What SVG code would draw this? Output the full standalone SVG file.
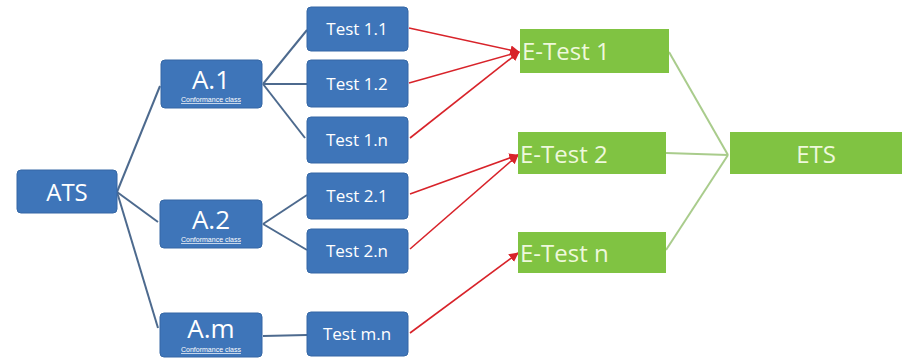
<svg xmlns="http://www.w3.org/2000/svg" width="904" height="360" viewBox="0 0 904 360">
<defs>
<style>
.b{fill:#3e75b9;stroke:#3567a5;stroke-width:1}
.g{fill:#80c342}
.tb{font-family:"Open Sans","Liberation Sans",sans-serif;fill:#ffffff;text-anchor:middle;dominant-baseline:central}
.tg{font-family:"Open Sans","Liberation Sans",sans-serif;fill:#eef8dc;dominant-baseline:central}
.cc{font-family:"Liberation Sans",sans-serif;fill:#ffffff;text-anchor:middle;font-size:7px;text-decoration:underline}
.bl{stroke:#4d6a8e;stroke-width:2;fill:none}
.gl{stroke:#a9cc8c;stroke-width:2;fill:none}
.rl{stroke:#d8232a;stroke-width:1.6;fill:none;marker-end:url(#ah)}
</style>
<marker id="ah" viewBox="0 0 10 10" refX="9" refY="5" markerWidth="6" markerHeight="6" orient="auto" markerUnits="strokeWidth">
<path d="M0,0 L10,5 L0,10 z" fill="#d8232a"/>
</marker>
</defs>
<rect width="904" height="360" fill="#ffffff"/>
<g id="connectors">
<path class="bl" d="M117,192 L160,86"/>
<path class="bl" d="M117,192 L158,222"/>
<path class="bl" d="M117,192 L158,328"/>
<path class="bl" d="M263,84 L307,30"/>
<path class="bl" d="M263,84 L307,84"/>
<path class="bl" d="M263,84 L305,138"/>
<path class="bl" d="M263,224 L307,195"/>
<path class="bl" d="M263,224 L307,250"/>
<path class="bl" d="M263,336 L307,335"/>
<path class="rl" d="M409,28 L519,52"/>
<path class="rl" d="M409,83 L519,52"/>
<path class="rl" d="M410,138 L519,52"/>
<path class="rl" d="M410,194 L518,155"/>
<path class="rl" d="M410,249 L518,155"/>
<path class="rl" d="M410,333 L518,253"/>
<path class="gl" d="M669,52 L728,155"/>
<path class="gl" d="M666,153 L728,155"/>
<path class="gl" d="M666,250 L728,155"/>
</g>
<g id="ATS"><rect class="b" x="17" y="170" width="100" height="43" rx="4"/><text class="tb" x="67" y="191" font-size="24">ATS</text></g>
<g id="A1"><rect class="b" x="161" y="60" width="101" height="48" rx="4"/><text class="tb" x="211" y="79" font-size="26">A.1</text><text class="cc" x="211" y="102">Conformance class</text></g>
<g id="A2"><rect class="b" x="160" y="200" width="102" height="48" rx="4"/><text class="tb" x="211" y="219" font-size="26">A.2</text><text class="cc" x="211" y="242">Conformance class</text></g>
<g id="Am"><rect class="b" x="160" y="313" width="102" height="44" rx="4"/><text class="tb" x="211" y="328" font-size="26">A.m</text><text class="cc" x="211" y="352">Conformance class</text></g>
<g id="T11"><rect class="b" x="307" y="7" width="101" height="44" rx="4"/><text class="tb" x="357" y="28" font-size="17">Test 1.1</text></g>
<g id="T12"><rect class="b" x="307" y="60" width="101" height="47" rx="4"/><text class="tb" x="357" y="83" font-size="17">Test 1.2</text></g>
<g id="T1n"><rect class="b" x="307" y="117" width="101" height="46" rx="4"/><text class="tb" x="357" y="139" font-size="17">Test 1.n</text></g>
<g id="T21"><rect class="b" x="307" y="173" width="101" height="46" rx="4"/><text class="tb" x="357" y="195" font-size="17">Test 2.1</text></g>
<g id="T2n"><rect class="b" x="307" y="229" width="101" height="44" rx="4"/><text class="tb" x="357" y="250" font-size="17">Test 2.n</text></g>
<g id="Tmn"><rect class="b" x="307" y="312" width="101" height="44" rx="4"/><text class="tb" x="357" y="333" font-size="17">Test m.n</text></g>
<g id="ET1"><rect class="g" x="520" y="29" width="149" height="44"/><text class="tg" x="522" y="50" font-size="24">E-Test 1</text></g>
<g id="ET2"><rect class="g" x="518" y="132" width="148" height="42"/><text class="tg" x="520" y="153" font-size="24">E-Test 2</text></g>
<g id="ETn"><rect class="g" x="518" y="232" width="148" height="41"/><text class="tg" x="520" y="252" font-size="24">E-Test n</text></g>
<g id="ETS"><rect class="g" x="730" y="132" width="172" height="42"/><text class="tg" x="816" y="153" font-size="24" text-anchor="middle">ETS</text></g>
</svg>
